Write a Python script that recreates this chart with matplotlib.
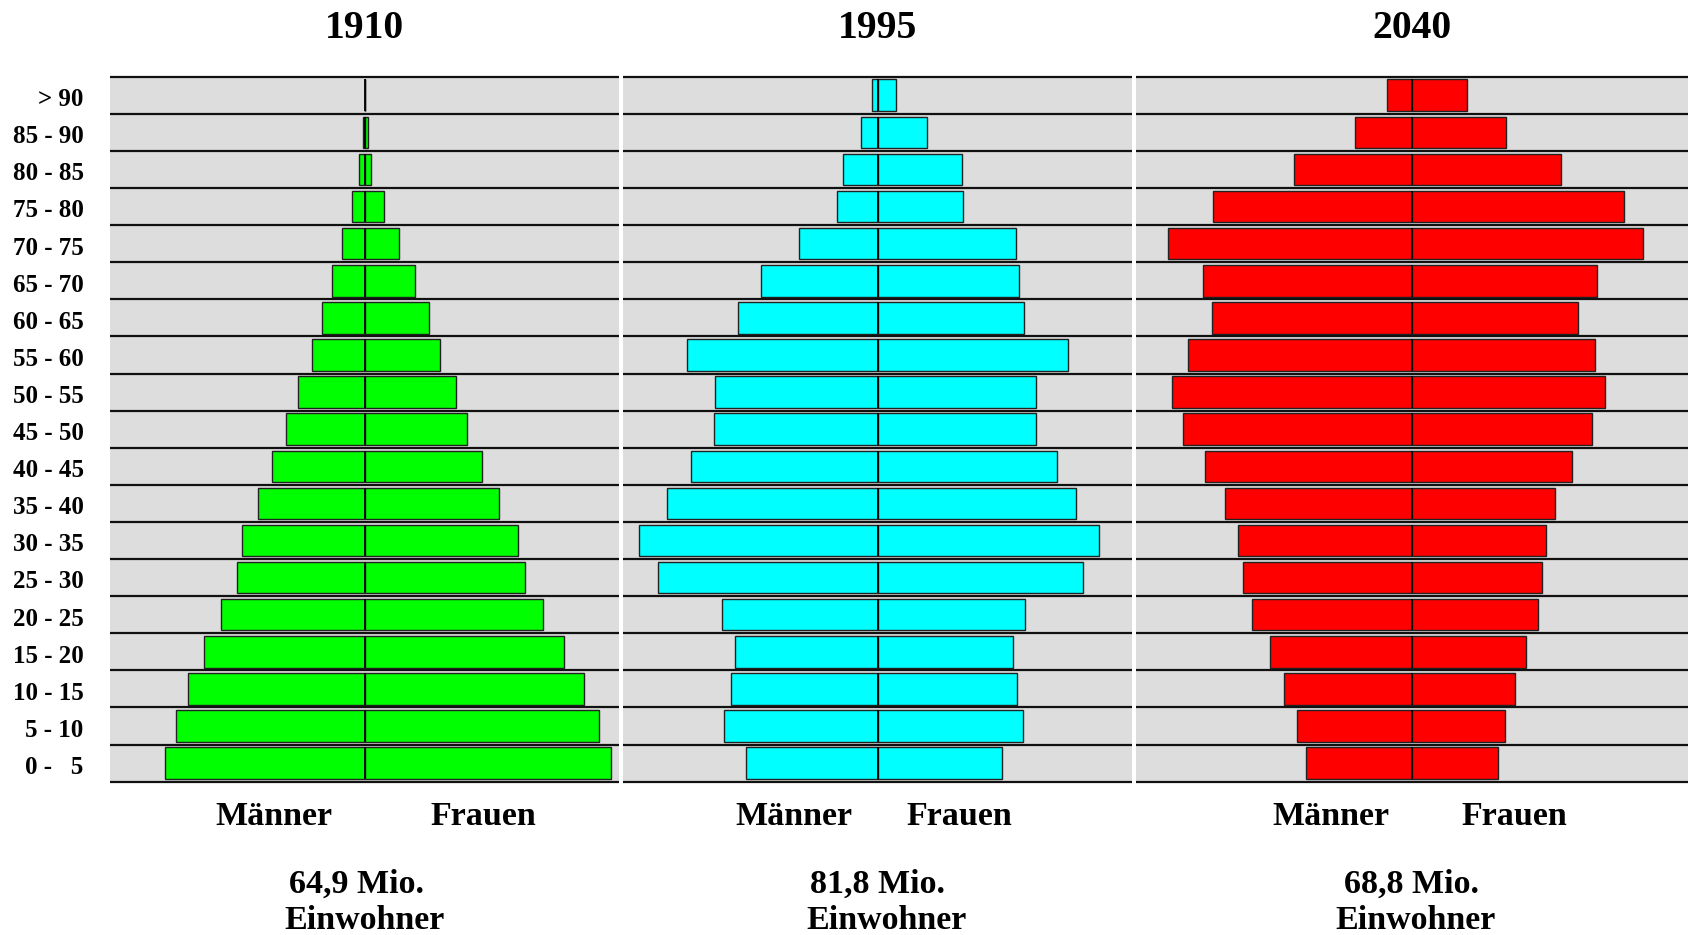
import numpy as np
import matplotlib
matplotlib.use('Agg')
import matplotlib.pyplot as plt

plt.rcParams['font.family'] = ['Liberation Serif', 'DejaVu Serif']
plt.rcParams['font.weight'] = 'bold'

# Age groups, top to bottom
age_groups = ['> 90', '85 - 90', '80 - 85', '75 - 80', '70 - 75', '65 - 70', '60 - 65',
              '55 - 60', '50 - 55', '45 - 50', '40 - 45', '35 - 40', '30 - 35', '25 - 30',
              '20 - 25', '15 - 20', '10 - 15', '5 - 10', '0 -   5']

# Population in thousands, same order as age_groups
men_1910 = [0, 30, 80, 190, 350, 510, 670, 820, 1050, 1230,
            1450, 1680, 1920, 2010, 2250, 2520, 2780, 2970, 3130]
women_1910 = [0, 50, 110, 310, 550, 800, 1010, 1180, 1440, 1610,
              1850, 2110, 2410, 2520, 2800, 3140, 3450, 3680, 3870]

men_1995 = [80, 260, 540, 640, 1230, 1830, 2190, 2990, 2550, 2570,
            2930, 3310, 3760, 3460, 2440, 2250, 2310, 2410, 2070]
women_1995 = [290, 780, 1330, 1350, 2180, 2220, 2300, 2990, 2490, 2490,
              2830, 3120, 3490, 3230, 2320, 2130, 2200, 2290, 1960]

men_2040 = [400, 900, 1860, 3130, 3840, 3290, 3140, 3520, 3770, 3600,
            3260, 2940, 2740, 2650, 2510, 2230, 2020, 1810, 1670]
women_2040 = [860, 1480, 2340, 3340, 3640, 2910, 2610, 2870, 3030, 2830,
              2520, 2250, 2110, 2050, 1980, 1790, 1620, 1460, 1350]

years = ['1910', '1995', '2040']
totals = ['64,9 Mio.', '81,8 Mio.', '68,8 Mio.']
colors = ['#00ff00', '#00ffff', '#ff0000']
men_all = [men_1910, men_1995, men_2040]
women_all = [women_1910, women_1995, women_2040]
xlims = [4000, 4000, 4340]

W, H = 1689, 935
fig = plt.figure(figsize=(W / 100, H / 100), dpi=100, facecolor='white')

# panel boxes in pixels: left, right
panels = [(110, 619), (623.3, 1131.7), (1136, 1688)]
top_px, bot_px = 76.7, 781.7
label_x = [(0.321, 0.733), (0.335, 0.661), (0.3525, 0.685)]
# small horizontal nudges (px) for the total lines
mio_dx = [-8, 0, 0]
einw_dx = [0, 9, 4]

n = len(age_groups)
ypos = np.arange(n)[::-1]
bar_h = 0.85

for i in range(3):
    l, r = panels[i]
    ax = fig.add_axes([l / W, 1 - bot_px / H, (r - l) / W, (bot_px - top_px) / H])
    ax.set_facecolor('#dddddd')
    for s in ax.spines.values():
        s.set_visible(False)
    ax.set_xticks([])
    ax.set_yticks([])
    ax.set_xlim(-xlims[i], xlims[i])
    ax.set_ylim(-0.5, n - 0.5)

    ax.barh(ypos, -np.array(men_all[i]), height=bar_h, color=colors[i],
            edgecolor='#222222', linewidth=1.0)
    ax.barh(ypos, women_all[i], height=bar_h, color=colors[i],
            edgecolor='#222222', linewidth=1.0)
    ax.vlines(np.zeros(n), ypos - bar_h / 2, ypos + bar_h / 2, color='black', linewidth=1.3)
    ax.hlines(np.arange(n + 1) - 0.5, -xlims[i], xlims[i], color='#111111',
              linewidth=1.6, clip_on=False)

    # year title
    cx = (l + r) / 2 / W
    fig.text(cx, 1 - 38.3 / H, years[i], ha='center', va='baseline',
             fontsize=28.5, fontweight='bold')

    # Männer / Frauen
    mx, fx = label_x[i]
    fig.text((l + mx * (r - l)) / W, 1 - 825.3 / H, 'Männer', ha='center',
             va='baseline', fontsize=24.5, fontweight='bold')
    fig.text((l + fx * (r - l)) / W, 1 - 825.3 / H, 'Frauen', ha='center',
             va='baseline', fontsize=24.5, fontweight='bold')

    # total population
    fig.text(cx + mio_dx[i] / W, 1 - 893 / H, totals[i], ha='center', va='baseline',
             fontsize=24.5, fontweight='bold')
    fig.text(cx + einw_dx[i] / W, 1 - 929 / H, 'Einwohner', ha='center', va='baseline',
             fontsize=24.5, fontweight='bold')

    if i == 0:
        for y, lab in zip(ypos, age_groups):
            ax.text(-0.052, y - 0.05, lab, transform=ax.get_yaxis_transform(),
                    ha='right', va='center_baseline', fontsize=18, fontweight='bold')

fig.savefig('out.png', dpi=100, facecolor='white')
